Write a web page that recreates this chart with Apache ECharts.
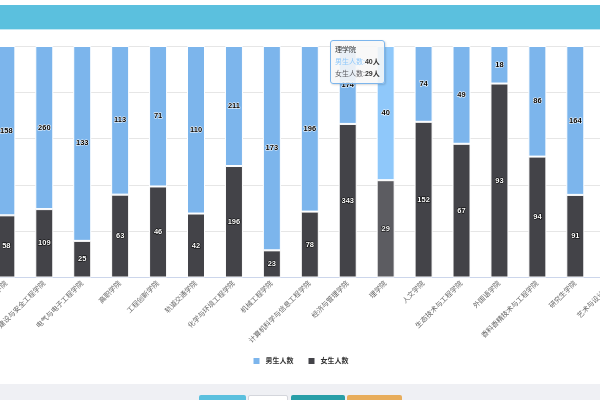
<!DOCTYPE html>
<html>
<head>
<meta charset="utf-8">
<script src="https://cdn.jsdelivr.net/npm/echarts@6/dist/echarts.min.js"></script>
<style>
  html, body { margin: 0; padding: 0; width: 600px; height: 400px; overflow: hidden; background: #fff; }
  .header { position: absolute; left: 0; top: 5px; width: 600px; height: 24px; background: #5bc0de; border-bottom: 1px solid #c2e7f3; z-index: 2; }
  #chart { position: absolute; left: -60px; top: 0; width: 720px; height: 400px; }
  .footer { position: absolute; left: 0; top: 384px; width: 600px; height: 16px; background: #eff0f4; z-index: 2; }
  .btn { position: absolute; top: 11px; height: 10px; border-radius: 2px; box-sizing: border-box; }
</style>
</head>
<body>
<div class="header"></div>
<div id="chart"></div>
<div class="footer">
  <div class="btn" style="left:199px;width:47px;background:#5bc0de;"></div>
  <div class="btn" style="left:248px;width:40px;background:#fff;border:1px solid #d4d6dc;"></div>
  <div class="btn" style="left:291px;width:54px;background:#289ea7;"></div>
  <div class="btn" style="left:347px;width:55px;background:#e8ad5b;"></div>
</div>
<script>
// 学院列表（按拼音排序）
var colleges = ['材料科学与工程学院', '城市建设与安全工程学院', '电气与电子工程学院', '高职学院',
  '工程创新学院', '轨道交通学院', '化学与环境工程学院', '机械工程学院', '计算机科学与信息工程学院',
  '经济与管理学院', '理学院', '人文学院', '生态技术与工程学院', '外国语学院',
  '香料香精技术与工程学院', '研究生学院', '艺术与设计学院'];
var maleCount   = [158, 260, 133, 113, 71, 110, 211, 173, 196, 174, 40, 74, 49, 18, 86, 164, null];
var femaleCount = [58, 109, 25, 63, 46, 42, 196, 23, 78, 343, 29, 152, 67, 93, 94, 91, null];
var yTicks = [0, 20, 40, 60, 80, 100];
var hoverCollege = '理学院';

var font = "'Liberation Sans', 'Noto Sans CJK SC', sans-serif";
var hoverIdx = colleges.indexOf(hoverCollege);
var maleColor = '#7cb5ec', femaleColor = '#434348';

function pct(arr, i) {
    var total = (maleCount[i] || 0) + (femaleCount[i] || 0);
    if (arr[i] == null || !total) return null;
    return arr[i] / total * 100;
}

function buildData(arr, hoverColor) {
    return arr.map(function (v, i) {
        var d = { value: pct(arr, i), raw: v };
        if (i === hoverIdx) d.itemStyle = { color: hoverColor };
        return d;
    });
}

function $label(base, extra) {
    var o = {};
    for (var k in base) o[k] = base[k];
    for (var j in extra) o[j] = extra[j];
    return o;
}

var chart = echarts.init(document.getElementById('chart'));

var labelBase = {
    show: true,
    position: 'inside',
    fontSize: 7.5,
    fontWeight: 'bold',
    fontFamily: font,
    textBorderWidth: 1,
    formatter: function (p) { return p.data.raw; }
};

var option = {
    animation: false,
    grid: { left: 47.4, top: 46, width: 644.8, height: 231.5 },
    legend: {
        top: 351,
        left: 'center',
        itemWidth: 8,
        itemHeight: 8,
        itemGap: 13,
        icon: 'rect',
        textStyle: { fontSize: 7, fontWeight: 'bold', color: '#333', fontFamily: font },
        data: ['男生人数', '女生人数']
    },
    tooltip: {
        trigger: 'axis',
        triggerOn: 'none',
        alwaysShowContent: true,
        transitionDuration: 0,
        axisPointer: { type: 'none' },
        backgroundColor: 'rgba(247,247,247,0.88)',
        borderColor: maleColor,
        borderWidth: 1,
        padding: [3, 4],
        extraCssText: 'border-radius:3px;box-shadow:1px 1px 2px rgba(0,0,0,0.15);line-height:12px;',
        position: function () { return [390, 40]; },
        formatter: function (params) {
            var s = '<div style="font-size:7px;color:#333;font-family:' + font + '">' + params[0].name;
            params.slice().reverse().forEach(function (p) {
                s += '<br/><span style="color:' + p.color + '">' +
                    p.seriesName + ':</span><b>' + p.data.raw + '人</b>';
            });
            return s + '</div>';
        }
    },
    xAxis: {
        type: 'category',
        data: colleges,
        axisLine: { lineStyle: { color: '#ccd6eb' } },
        axisTick: { length: 5, lineStyle: { color: '#ccd6eb' } },
        axisLabel: { interval: 0, rotate: 45, fontSize: 7, color: '#666', margin: 5, fontFamily: font }
    },
    yAxis: {
        type: 'value',
        min: yTicks[0],
        max: yTicks[yTicks.length - 1],
        interval: yTicks[1] - yTicks[0],
        axisLine: { show: false },
        axisLabel: { formatter: '{value}%', fontSize: 7, color: '#666' },
        splitLine: { lineStyle: { color: '#e6e6e6' } }
    },
    series: [{
        name: '女生人数',
        type: 'bar',
        stack: 'total',
        barWidth: 18,
        emphasis: { disabled: true },
        itemStyle: { color: femaleColor, borderColor: '#fff', borderWidth: 1 },
        label: $label(labelBase, { color: '#fff', textBorderColor: '#000' }),
        data: buildData(femaleCount, '#5c5c61')
    }, {
        name: '男生人数',
        type: 'bar',
        stack: 'total',
        barWidth: 18,
        emphasis: { disabled: true },
        itemStyle: { color: maleColor, borderColor: '#fff', borderWidth: 1 },
        label: $label(labelBase, { color: '#000', textBorderColor: '#fff' }),
        data: buildData(maleCount, '#8fc8fa')
    }]
};

chart.setOption(option);
chart.dispatchAction({ type: 'showTip', seriesIndex: 0, dataIndex: hoverIdx });
</script>
</body>
</html>
